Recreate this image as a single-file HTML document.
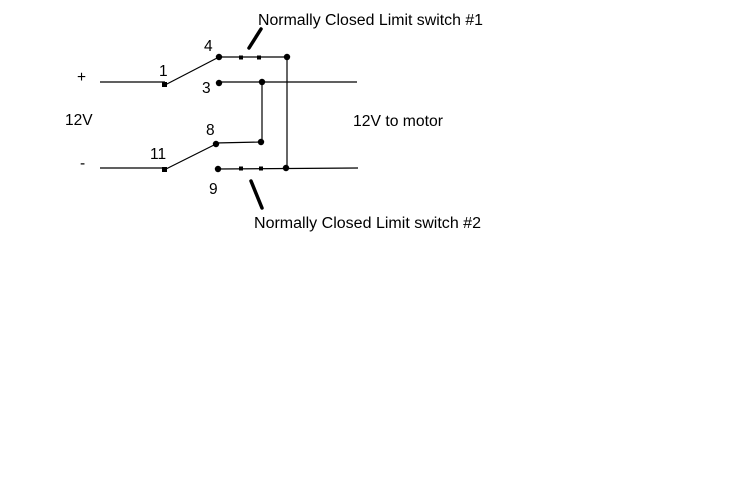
<!DOCTYPE html>
<html><head><style>body{margin:0;background:#fff}svg{display:block}</style></head><body>
<svg width="750" height="500" viewBox="0 0 750 500" xmlns="http://www.w3.org/2000/svg" font-family="Liberation Sans, Arial, sans-serif" font-size="15.5" fill="#000">
<rect width="750" height="500" fill="#fff"/>
<g stroke="#000" stroke-width="1.2" fill="none">
<line x1="100" y1="82" x2="165" y2="82"/>
<line x1="165" y1="85" x2="219" y2="57"/>
<line x1="219" y1="57" x2="287" y2="57"/>
<line x1="287" y1="57" x2="287" y2="168"/>
<line x1="219" y1="82" x2="357" y2="82"/>
<line x1="262" y1="82" x2="262" y2="142"/>
<line x1="215" y1="143" x2="262" y2="142"/>
<line x1="100" y1="168" x2="165" y2="168"/>
<line x1="164" y1="170" x2="216" y2="144"/>
<line x1="218" y1="169" x2="358" y2="168"/>
</g>
<g stroke="#000" stroke-width="3.5" stroke-linecap="round">
<line x1="249" y1="48" x2="261" y2="29"/>
<line x1="251" y1="181" x2="262" y2="208"/>
</g>
<g fill="#000">
<rect x="162" y="82" width="5" height="5"/>
<rect x="162" y="167" width="5" height="5"/>
<circle cx="219" cy="57" r="3.2"/>
<circle cx="219" cy="83" r="3.2"/>
<circle cx="216" cy="144" r="3.2"/>
<circle cx="218" cy="169" r="3.2"/>
<circle cx="287" cy="57" r="3.2"/>
<circle cx="262" cy="82" r="3.2"/>
<circle cx="261" cy="142" r="3.2"/>
<circle cx="286" cy="168" r="3.2"/>
<rect x="239" y="55.5" width="4" height="4"/>
<rect x="257" y="55.5" width="4" height="4"/>
<rect x="239" y="166.5" width="4" height="4"/>
<rect x="259" y="166.5" width="4" height="4"/>
</g>
<text x="258" y="25" textLength="225" lengthAdjust="spacingAndGlyphs">Normally Closed Limit switch #1</text>
<text x="254" y="228" textLength="227" lengthAdjust="spacingAndGlyphs">Normally Closed Limit switch #2</text>
<text x="353" y="126" textLength="90" lengthAdjust="spacingAndGlyphs">12V to motor</text>
<text x="65" y="125">12V</text>
<text x="77" y="82">+</text>
<text x="80" y="168">-</text>
<text x="159" y="76">1</text>
<text x="204" y="51">4</text>
<text x="202" y="93">3</text>
<text x="206" y="135">8</text>
<text x="150" y="159">11</text>
<text x="209" y="194">9</text>
</svg>
</body></html>
